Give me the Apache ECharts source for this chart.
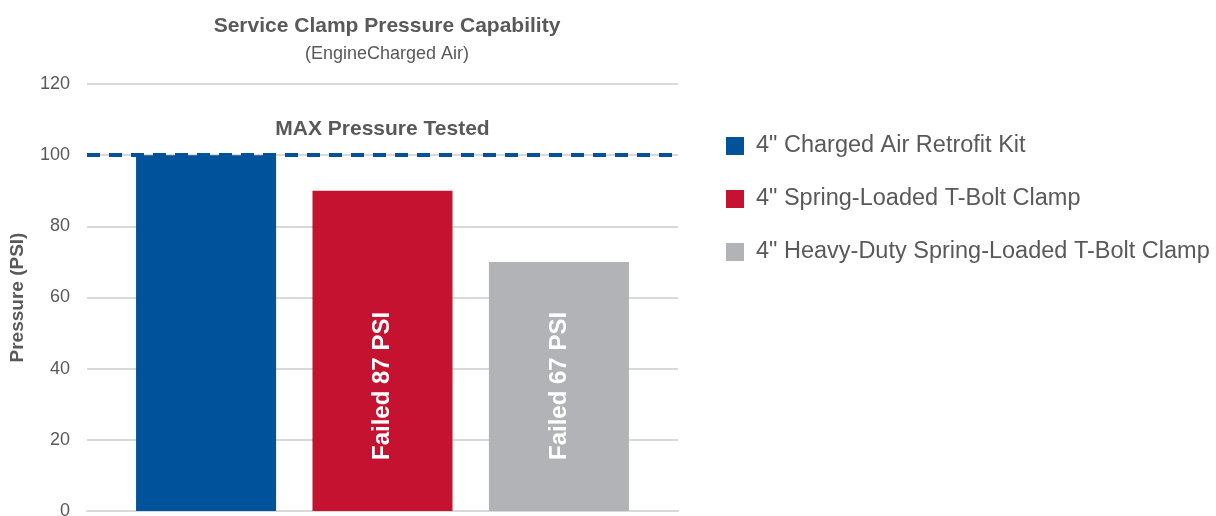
<!DOCTYPE html>
<html>
<head>
<meta charset="utf-8">
<script src="https://cdn.jsdelivr.net/npm/echarts@6/dist/echarts.min.js"></script>
<style>
  html, body { margin: 0; padding: 0; background: #fff; }
  #chart { width: 1216px; height: 516px; }
</style>
</head>
<body>
<div id="chart"></div>
<script>
// 数据
var seriesNames = ['4" Charged Air Retrofit Kit', '4" Spring-Loaded T-Bolt Clamp', '4" Heavy-Duty Spring-Loaded T-Bolt Clamp'];
var seriesValues = [100, 90, 70];
var barLabels = ['', 'Failed 87 PSI', 'Failed 67 PSI'];
var colors = ['#00529B', '#C41230', '#B1B3B6'];
var yTicks = [0, 20, 40, 60, 80, 100, 120];
var maxTested = 100;

var FONT = '"Liberation Sans", Arial, sans-serif';

var myChart = echarts.init(document.getElementById('chart'));

var series = [];
for (var i = 0; i < seriesNames.length; i++) {
	var s = {
		name: seriesNames[i],
		type: 'bar',
		data: [seriesValues[i]],
		barGap: '26%',
		barCategoryGap: '16.6%',
		itemStyle: { color: colors[i] },
		label: {
			show: barLabels[i] !== '',
			position: 'insideBottom',
			distance: 51,
			rotate: 90,
			align: 'left',
			verticalAlign: 'middle',
			color: '#fff',
			fontFamily: FONT,
			fontWeight: 'bold',
			fontSize: 24,
			formatter: barLabels[i]
		}
	};
	//最大测试压力虚线
	if (i === 0) {
		s.markLine = {
			symbol: 'none',
			silent: true,
			data: [{ yAxis: maxTested }],
			lineStyle: { color: '#00529B', type: [13, 9], width: 4 },
			label: {
				position: 'insideMiddleTop',
				formatter: 'MAX Pressure Tested',
				distance: 15,
				color: '#595959',
				fontFamily: FONT,
				fontWeight: 'bold',
				fontSize: 21
			}
		};
	}
	series.push(s);
}

var option = {
	animation: false,
	color: colors,
	title: {
		text: 'Service Clamp Pressure Capability',
		subtext: '(EngineCharged Air)',
		left: 382,
		textAlign: 'center',
		top: 11,
		itemGap: 8,
		textStyle: { color: '#595959', fontFamily: FONT, fontWeight: 'bold', fontSize: 21 },
		subtextStyle: { color: '#595959', fontFamily: FONT, fontSize: 18 }
	},
	legend: {
		orient: 'vertical',
		left: 721,
		top: 129,
		itemWidth: 18,
		itemHeight: 18,
		itemGap: 29,
		icon: 'rect',
		data: seriesNames,
		textStyle: { color: '#595959', fontFamily: FONT, fontSize: 23.5, padding: [0, 0, 0, 7] }
	},
	grid: { left: 87, right: 538, top: 84, bottom: 5, containLabel: false, outerBoundsMode: 'none' },
	xAxis: {
		type: 'category',
		data: [''],
		axisLine: { lineStyle: { color: '#D9D9D9', width: 2 } },
		axisTick: { show: false },
		axisLabel: { show: false }
	},
	yAxis: {
		type: 'value',
		min: yTicks[0],
		max: yTicks[yTicks.length - 1],
		interval: 20,
		name: 'Pressure (PSI)',
		nameLocation: 'middle',
		nameGap: 60,
		nameTextStyle: { color: '#595959', fontFamily: FONT, fontWeight: 'bold', fontSize: 19 },
		axisLine: { show: false },
		axisTick: { show: false },
		axisLabel: { color: '#595959', fontFamily: FONT, fontSize: 18, margin: 17 },
		splitLine: { lineStyle: { color: '#D9D9D9', width: 2 } }
	},
	series: series
};

myChart.setOption(option);
</script>
</body>
</html>
